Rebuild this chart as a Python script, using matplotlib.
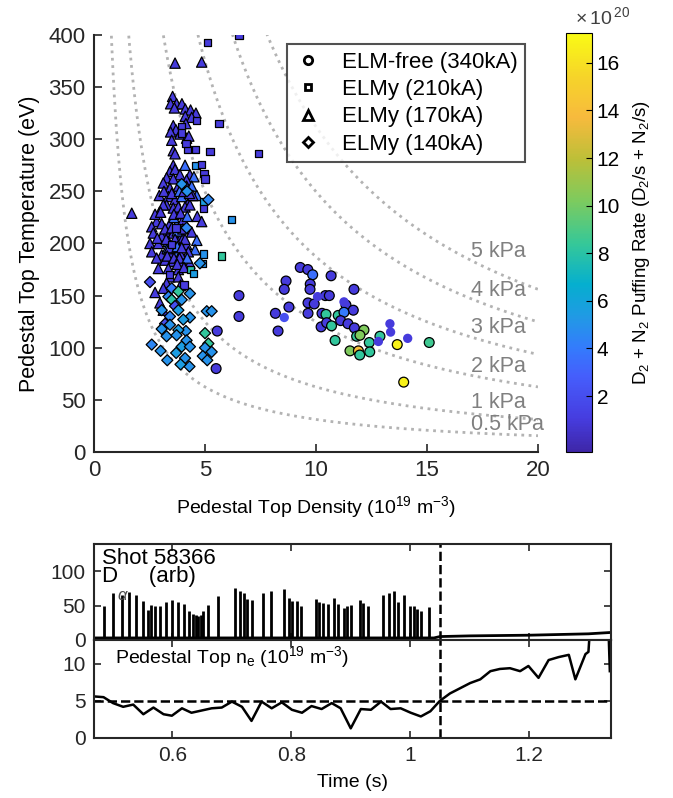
import numpy as np
import matplotlib
matplotlib.use("Agg")
import matplotlib.pyplot as plt
from matplotlib.colors import LinearSegmentedColormap
from matplotlib.lines import Line2D

plt.rcParams['font.family'] = ['Liberation Sans', 'DejaVu Sans']
plt.rcParams['mathtext.default'] = 'regular'

# ---- data: pedestal top density (1e19 m^-3), temperature (eV), puff rate (1e20 /s)
# ELM-free (340kA), circles with black edge
circ_n = [9.29, 9.63, 9.85, 10.68, 8.65, 8.57, 9.74, 9.73, 11.71, 6.53, 10.42, 10.60, 8.78, 9.64,
          9.92, 11.35, 8.17, 6.53, 9.64, 10.27, 10.45, 11.00, 11.68, 11.26, 8.29, 10.23, 10.48,
          11.11, 11.44, 11.73, 10.70, 10.86, 11.83, 12.16, 11.98, 12.40, 12.88, 11.53, 11.91,
          11.97, 12.42, 13.66, 15.10, 13.95, 5.55, 5.50]
circ_T = [177, 175, 170, 169, 164, 156, 161, 156, 156, 150, 150, 150, 139, 143,
          142, 141, 133, 130, 133, 133, 132, 131, 136, 134, 116, 120, 124,
          126, 123, 119, 121, 107, 111, 117, 112, 105, 111, 97, 97,
          93, 96, 103, 105, 67, 116, 80]
circ_c = [1.0, 1.0, 3.5, 1.0, 1.0, 1.0, 1.0, 1.0, 1.0, 1.0, 1.0, 1.0, 1.0, 1.0,
          1.0, 1.0, 1.0, 1.0, 1.0, 1.0, 8.3, 8.3, 1.0, 4.0, 1.0, 1.0, 1.0,
          1.0, 1.0, 1.0, 8.3, 8.3, 8.3, 10.3, 10.3, 8.3, 8.3, 10.3, 14.0,
          8.3, 8.3, 16.8, 8.6, 16.8, 1.0, 1.0]
# ELM-free circles drawn without edge
circ2_n = [10.07, 8.57, 11.26, 12.81, 13.33, 13.36, 14.13]
circ2_T = [149, 129, 144, 106, 123, 115, 109]
circ2_c = [1.0, 2.0, 1.0, 1.0, 1.0, 1.0, 1.0]

# ELMy (210kA), squares
sq_n = [6.53, 5.10, 5.63, 4.63, 4.20, 4.56, 5.23, 7.40, 4.60, 4.85, 4.95, 5.00, 6.20, 4.92,
        4.92, 3.95, 3.95, 5.75, 4.92, 4.35, 4.47, 4.90, 3.50, 4.15, 3.70, 4.05, 3.40]
sq_T = [400, 393, 315, 318, 290, 290, 288, 286, 275, 276, 267, 262, 223, 234,
        240, 312, 306, 188, 190, 175, 171, 181, 199, 296, 215, 160, 170]
sq_c = [1.0, 1.0, 1.0, 1.0, 1.0, 1.0, 1.0, 1.0, 5.0, 1.0, 1.0, 1.0, 5.0, 1.0,
        5.5, 1.0, 1.0, 8.3, 5.0, 8.0, 5.5, 5.0, 1.0, 1.0, 1.0, 1.0, 1.0]

# ELMy (170kA), triangles
tri_n = [3.65, 4.85, 3.54, 3.45, 3.72, 3.96, 3.62, 4.11, 4.35, 4.59, 4.11, 4.40, 4.14, 3.57,
         3.69, 3.45, 3.87, 4.17, 4.27, 3.50, 3.57, 3.65, 3.57, 4.10, 3.42, 3.65, 3.87, 4.32,
         4.50, 3.27, 3.57, 3.12, 4.17, 3.42, 3.80, 4.17, 4.40, 2.94, 3.35, 3.65, 3.95, 4.25,
         4.63, 3.27, 3.57, 3.80, 4.10, 4.32, 4.65, 1.70, 3.12, 2.82, 3.05, 3.42, 3.72, 4.02,
         4.85, 2.60, 2.67, 3.27, 3.57, 4.40, 3.05, 3.95, 4.63, 2.52, 2.90, 3.35, 3.72, 4.17,
         4.55, 2.60, 3.05, 3.42, 3.80, 4.25, 2.82, 3.20, 3.57, 3.95, 4.32, 2.90, 3.35, 3.80,
         3.42, 3.80, 3.27, 2.75, 3.12, 2.97, 3.12, 3.60, 4.00, 3.30, 3.90, 4.45, 2.95,
         3.15, 3.50, 3.85, 4.05, 4.30, 2.75, 3.00, 3.60, 3.90, 4.20, 3.20, 3.50, 3.75, 4.00,
         2.85, 3.25, 3.65, 4.10, 3.40, 3.75, 3.95, 3.30, 3.60, 3.85, 4.20, 3.75, 4.05, 3.90]
tri_T = [373, 374, 341, 334, 334, 334, 330, 329, 328, 325, 322, 321, 315, 313,
         309, 307, 305, 301, 303, 299, 289, 286, 275, 275, 269, 271, 266, 266,
         264, 263, 262, 258, 261, 253, 255, 255, 255, 246, 245, 242, 245, 239,
         246, 237, 234, 235, 235, 237, 226, 229, 237, 221, 219, 219, 218, 223,
         221, 216, 210, 211, 210, 211, 207, 207, 203, 200, 200, 202, 200, 199,
         194, 192, 189, 191, 192, 192, 186, 184, 183, 183, 181, 176, 176, 175,
         168, 168, 162, 153, 157, 143, 136, 225, 205, 195, 190, 246, 230,
         250, 248, 250, 250, 248, 228, 230, 228, 229, 226, 214, 215, 212, 214,
         205, 204, 204, 204, 196, 197, 196, 188, 186, 186, 186, 180, 177, 160]
tri_c = [1.0, 1.0, 1.0, 1.0, 1.0, 1.0, 1.0, 1.0, 1.0, 1.0, 1.0, 1.0, 1.0, 1.0,
         1.0, 1.0, 1.0, 1.0, 1.0, 1.0, 1.0, 1.0, 1.0, 3.5, 1.0, 1.0, 1.0, 1.0,
         3.5, 1.0, 1.0, 1.0, 1.0, 1.0, 1.0, 1.0, 3.5, 1.0, 1.0, 1.0, 3.5, 1.0,
         3.5, 1.0, 1.0, 1.0, 1.0, 1.0, 1.0, 1.0, 1.0, 1.0, 1.0, 1.0, 3.5, 1.0,
         1.0, 1.0, 1.0, 1.0, 1.0, 1.0, 1.0, 1.0, 3.5, 1.0, 1.0, 3.5, 1.0, 1.0,
         3.5, 1.0, 1.0, 1.0, 3.5, 1.0, 1.0, 1.0, 1.0, 1.0, 1.0, 1.0, 1.0, 1.0,
         1.0, 1.0, 1.0, 1.0, 1.0, 1.0, 1.0, 3.5, 1.0, 3.5, 1.0, 1.0, 3.5,
         1.0, 1.0, 3.5, 1.0, 1.0, 1.0, 1.0, 1.0, 1.0, 3.5, 1.0, 1.0, 3.5, 1.0,
         1.0, 1.0, 1.0, 1.0, 1.0, 3.5, 1.0, 1.0, 1.0, 1.0, 3.5, 1.0, 1.0, 1.0]

# ELMy (140kA), diamonds
dia_n = [5.15, 4.19, 3.95, 4.77, 4.17, 2.52, 3.50, 3.80, 4.32, 3.35, 3.50, 3.95, 3.65, 3.05,
         3.80, 5.08, 5.30, 3.42, 4.32, 4.02, 3.20, 3.42, 3.05, 4.14, 3.80, 5.00, 3.27, 3.72,
         4.17, 3.95, 4.32, 5.15, 5.00, 2.60, 3.00, 3.30, 3.70, 4.10, 4.30, 4.90, 5.10, 5.30, 3.90]
dia_T = [242, 250, 257, 181, 215, 163, 157, 154, 152, 149, 146, 146, 140, 136,
         136, 135, 135, 130, 129, 127, 123, 122, 118, 116, 117, 114, 111, 112,
         107, 101, 101, 104, 100, 103, 97, 88, 95, 90, 82, 92, 88, 96, 84]
dia_c = [4.5, 5.0, 5.0, 5.0, 4.5, 2.0, 4.0, 8.3, 5.0, 4.5, 8.0, 5.0, 2.0, 5.0,
         5.5, 5.0, 5.0, 4.5, 5.0, 5.5, 2.0, 5.0, 5.0, 5.0, 5.5, 8.3, 5.0, 5.0,
         5.0, 5.5, 5.0, 8.3, 5.0, 4.5, 5.0, 5.0, 5.5, 5.0, 5.0, 5.0, 5.0, 5.0, 5.5]

isobar_kpa = [0.5, 1, 2, 3, 4, 5]
isobar_lbl = ['0.5 kPa', '1 kPa', '2 kPa', '3 kPa', '4 kPa', '5 kPa']
isobar_lbl_T = [26, 47, 82, 119, 155, 192]

# ---- shot 58366 time traces
spike_t = [0.484, 0.500, 0.515, 0.527, 0.539, 0.550, 0.558, 0.564, 0.571, 0.579, 0.589, 0.600,
           0.610, 0.620, 0.628, 0.634, 0.639, 0.643, 0.648, 0.652, 0.660, 0.677, 0.705, 0.713,
           0.720, 0.726, 0.734, 0.752, 0.766, 0.788, 0.796, 0.802, 0.809, 0.816, 0.841, 0.847,
           0.854, 0.861, 0.871, 0.879, 0.888, 0.894, 0.901, 0.915, 0.921, 0.929, 0.955, 0.965,
           0.973, 0.980, 0.990, 0.999, 1.006, 1.012, 1.018, 1.031]
spike_h = [50, 69, 66, 70, 66, 57, 44, 51, 50, 49, 55, 59,
           56, 52, 43, 38, 37, 35, 37, 43, 51, 64, 76, 71,
           69, 60, 59, 69, 71, 74, 61, 57, 57, 49, 60, 55,
           54, 52, 61, 52, 46, 49, 51, 58, 54, 49, 65, 68,
           71, 56, 66, 49, 49, 45, 43, 48]
base_t = [0.468, 0.70, 0.90, 1.04, 1.05, 1.10, 1.20, 1.30, 1.338]
base_v = [3, 3, 3, 3, 5, 6, 7, 9, 11]

ne_t = [0.468, 0.484, 0.500, 0.517, 0.534, 0.551, 0.568, 0.585, 0.599, 0.616, 0.632, 0.649,
        0.666, 0.683, 0.700, 0.717, 0.733, 0.750, 0.767, 0.784, 0.801, 0.818, 0.834, 0.851,
        0.868, 0.883, 0.900, 0.917, 0.934, 0.951, 0.967, 0.984, 1.001, 1.018, 1.034, 1.050,
        1.067, 1.084, 1.101, 1.118, 1.135, 1.151, 1.168, 1.185, 1.199, 1.216, 1.233, 1.250,
        1.267, 1.278, 1.295, 1.300, 1.302, 1.334, 1.336]
ne_v = [5.6, 5.5, 4.7, 4.2, 4.5, 3.2, 4.1, 3.2, 3.0, 4.0, 3.4, 3.7,
        4.0, 4.1, 4.9, 4.2, 2.3, 4.9, 4.0, 4.8, 3.8, 3.4, 4.3, 3.9,
        4.7, 4.0, 1.3, 3.9, 3.8, 4.9, 3.9, 4.0, 3.4, 2.9, 3.6, 5.0,
        6.0, 6.7, 7.4, 7.9, 9.0, 9.3, 9.4, 9.0, 9.7, 8.1, 10.5, 10.9,
        11.2, 7.9, 11.3, 11.6, 14.0, 14.0, 9.0]
t_transition = 1.05

# parula-like colormap
parula = LinearSegmentedColormap.from_list('parula', [
    (0.00, (0.2422, 0.1504, 0.6603)),
    (0.08, (0.2758, 0.2382, 0.8767)),
    (0.18, (0.2720, 0.3690, 0.9890)),
    (0.25, (0.2000, 0.4870, 0.9870)),
    (0.32, (0.1300, 0.6000, 0.9000)),
    (0.40, (0.0200, 0.6850, 0.8100)),
    (0.50, (0.2161, 0.7843, 0.5923)),
    (0.60, (0.4900, 0.7950, 0.3700)),
    (0.70, (0.7400, 0.7500, 0.2200)),
    (0.80, (0.9700, 0.7300, 0.2400)),
    (0.90, (0.9650, 0.8350, 0.1600)),
    (1.00, (0.9769, 0.9839, 0.0805))])

fig = plt.figure(figsize=(6.73, 7.98), dpi=100)
ax = fig.add_axes([0.1397, 0.4336, 0.6597, 0.5226])
cax = fig.add_axes([0.841, 0.4336, 0.0386, 0.525])
ax1 = fig.add_axes([0.1397, 0.198, 0.7682, 0.1203])
ax2 = fig.add_axes([0.1397, 0.0752, 0.7682, 0.1228])

# isobars
n_line = np.linspace(0.05, 20, 400)
for p, lbl, ty in zip(isobar_kpa, isobar_lbl, isobar_lbl_T):
    ax.plot(n_line, p * 1000 / (1.602 * n_line), ls=':', color='0.7', lw=2, zorder=1)
    ax.text(17.0, ty, lbl, color='0.5', fontsize=15.5, va='center', ha='left', clip_on=False, zorder=2)

vmin, vmax = -0.35, 17.25
kw = dict(cmap=parula, vmin=vmin, vmax=vmax, edgecolors='black', linewidths=0.9, zorder=3)
sc = ax.scatter(tri_n, tri_T, c=tri_c, marker='^', s=55, **kw)
ax.scatter(sq_n, sq_T, c=sq_c, marker='s', s=28, **kw)
ax.scatter(dia_n, dia_T, c=dia_c, marker='D', s=32, **kw)
ax.scatter(circ_n, circ_T, c=circ_c, marker='o', s=50, **kw)
ax.scatter(circ2_n, circ2_T, c=circ2_c, marker='o', s=45, cmap=parula, vmin=vmin, vmax=vmax,
           linewidths=0, zorder=3)

ax.set_xlim(0, 20)
ax.set_ylim(0, 400)
ax.set_xticks([0, 5, 10, 15, 20])
ax.set_yticks(np.arange(0, 401, 50))
ax.tick_params(direction='in', labelsize=16, length=6, width=1.2, colors='0.15', pad=6)
for s in ['top', 'right']:
    ax.spines[s].set_visible(False)
for s in ['left', 'bottom']:
    ax.spines[s].set_linewidth(1.5)
    ax.spines[s].set_color('0.15')
ax.set_xlabel('Pedestal Top Density (10$^{19}$ m$^{-3}$)', fontsize=14, labelpad=9)
ax.set_ylabel('Pedestal Top Temperature (eV)', fontsize=15.5, labelpad=6)

handles = [Line2D([0], [0], marker=m, ls='none', mfc='white', mec='black', mew=2, ms=ms, label=l)
           for m, ms, l in [('o', 6, 'ELM-free (340kA)'), ('s', 5, 'ELMy (210kA)'),
                            ('^', 7, 'ELMy (170kA)'), ('D', 5, 'ELMy (140kA)')]]
leg = ax.legend(handles=handles, loc='upper right', bbox_to_anchor=(0.971, 0.978), fontsize=16,
                frameon=True, fancybox=False, handletextpad=0.9, borderpad=0.35, labelspacing=0.28,
                handlelength=1.2, borderaxespad=0)
leg.get_frame().set_edgecolor('0.15')
leg.get_frame().set_linewidth(1.5)

cb = fig.colorbar(sc, cax=cax)
cb.set_ticks([2, 4, 6, 8, 10, 12, 14, 16])
cb.ax.tick_params(direction='in', labelsize=15, length=4)
cb.outline.set_linewidth(0.8)
cb.set_label('D$_2$ + N$_2$ Puffing Rate (D$_2$/s + N$_2$/s)', fontsize=13.5, labelpad=8)
fig.text(0.855, 0.965, r'$\times\,10^{\,20}$', fontsize=14, color='0.25', ha='left', va='bottom')

# D-alpha
ax1.vlines(spike_t, 0, spike_h, color='black', lw=2)
ax1.plot(base_t, base_v, color='black', lw=2)
ax1.axvline(t_transition, color='black', ls='--', lw=1.8)
ax1.set_xlim(0.468, 1.338)
ax1.set_ylim(0, 140)
ax1.set_yticks([0, 50, 100])
ax1.set_xticks([0.6, 0.8, 1.0, 1.2])
ax1.set_xticklabels([])
ax1.text(0.015, 0.96, 'Shot 58366\nD     (arb)', transform=ax1.transAxes, fontsize=16,
         va='top', ha='left', linespacing=0.8)
ax1.text(0.045, 0.46, r'$\alpha$', transform=ax1.transAxes, fontsize=12, va='center', ha='left',
         style='italic', color='0.3')

# pedestal top density
ax2.plot(ne_t, ne_v, color='black', lw=1.8)
ax2.axvline(t_transition, color='black', ls='--', lw=1.8)
ax2.axhline(5, color='black', ls='--', lw=1.8)
ax2.set_xlim(0.468, 1.338)
ax2.set_ylim(0, 13.2)
ax2.set_yticks([0, 5, 10])
ax2.set_xticks([0.6, 0.8, 1.0, 1.2])
ax2.set_xticklabels(['0.6', '0.8', '1', '1.2'])
ax2.set_xlabel('Time (s)', fontsize=14, labelpad=6)
ax2.text(0.04, 0.83, 'Pedestal Top n$_e$ (10$^{19}$ m$^{-3}$)', transform=ax2.transAxes,
         fontsize=14, va='center', ha='left')

for a in (ax1, ax2):
    a.tick_params(direction='in', labelsize=15, length=5, width=1.2, top=True, right=True,
                  colors='0.15', pad=6)
    for s in a.spines.values():
        s.set_linewidth(1.5)
        s.set_color('0.15')

fig.savefig('out.png', dpi=100)
